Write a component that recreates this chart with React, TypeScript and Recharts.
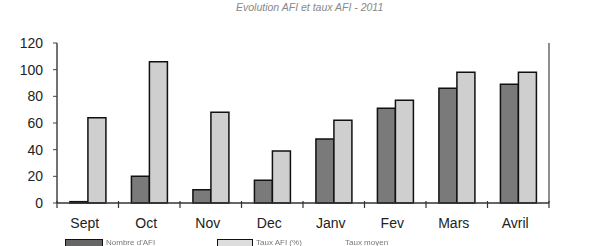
import { Bar, BarChart, Legend, XAxis, YAxis } from "recharts";

const months = ["Sept", "Oct", "Nov", "Dec", "Janv", "Fev", "Mars", "Avril"];
const nombre = [1, 20, 10, 17, 48, 71, 86, 89];
const taux = [64, 106, 68, 39, 62, 77, 98, 98];
const leftTicks = [0, 20, 40, 60, 80, 100, 120];
const rightTicks = [0, 20, 40, 60, 80, 100];
const legendLabels = ["Nombre d'AFI", "Taux AFI (%)", "Taux moyen"];

const data = months.map((m, i) => ({ m, nombre: nombre[i], taux: taux[i] }));

const W = 615;
const H = 246;
const LEFT = 57;
const RIGHT = 66;
const STEP = (W - LEFT - RIGHT) / months.length;

function MonthTick(props: any) {
  const { x, y, payload, index } = props;
  return (
    <g>
      <line x1={x + STEP / 2} x2={x + STEP / 2} y1={y - 10} y2={y - 3} stroke="#333" strokeWidth={1.2} />
      {index === 0 && (
        <line x1={x - STEP / 2} x2={x - STEP / 2} y1={y - 10} y2={y - 3} stroke="#333" strokeWidth={1.2} />
      )}
      <text x={x - 3} y={y + 17} textAnchor="middle" fontSize={14} fontWeight={500} fill="#222">
        {payload.value}
      </text>
    </g>
  );
}

function LegendBox() {
  return (
    <div style={{ position: "relative", height: 13, width: W, fontFamily: "Liberation Sans, Arial, sans-serif", fontSize: 8, color: "#777" }}>
      <div style={{ position: "absolute", left: 65, top: 6, width: 36, height: 8, background: "#666", border: "1.5px solid #111" }} />
      <div style={{ position: "absolute", left: 106, top: 5 }}>{legendLabels[0]}</div>
      <div style={{ position: "absolute", left: 217, top: 6, width: 34, height: 8, background: "#ddd", border: "1.5px solid #111" }} />
      <div style={{ position: "absolute", left: 256, top: 5 }}>{legendLabels[1]}</div>
      <div style={{ position: "absolute", left: 345, top: 5 }}>{legendLabels[2]}</div>
    </div>
  );
}

export default function App() {
  return (
    <div style={{ position: "fixed", left: 0, top: 0, width: W, height: H, background: "#fff", fontFamily: "Liberation Sans, Arial, sans-serif" }}>
      <div style={{ position: "absolute", top: 1, left: 236, fontSize: 10.5, fontStyle: "italic", color: "#888", whiteSpace: "nowrap" }}>
        Evolution AFI et taux AFI - 2011
      </div>
      <BarChart
        width={W}
        height={H}
        data={data}
        margin={{ top: 43, right: 0, left: 0, bottom: 0 }}
        barCategoryGap="21%"
        barGap={0}
      >
        <XAxis
          dataKey="m"
          height={30}
          interval={0}
          tickLine={false}
          axisLine={{ stroke: "#333", strokeWidth: 1.5 }}
          tick={<MonthTick />}
        />
        <YAxis
          yAxisId="left"
          width={LEFT}
          domain={[0, 120]}
          ticks={leftTicks}
          interval={0}
          tickSize={4}
          tickMargin={10}
          axisLine={{ stroke: "#444", strokeWidth: 1.5 }}
          tickLine={{ stroke: "#444" }}
          tick={{ fontSize: 14, fill: "#222" }}
        />
        <YAxis
          yAxisId="right"
          orientation="right"
          width={RIGHT}
          domain={[0, 100]}
          ticks={rightTicks}
          interval={0}
          tickSize={6}
          tickMargin={8}
          tickFormatter={(v: number) => `${v}%`}
          axisLine={{ stroke: "#444", strokeWidth: 1.2 }}
          tickLine={{ stroke: "#444" }}
          tick={{ fontSize: 13, fill: "#555" }}
        />
        <Legend verticalAlign="bottom" content={<LegendBox />} wrapperStyle={{ left: 0, width: W }} />
        <Bar yAxisId="left" dataKey="nombre" fill="#7a7a7a" stroke="#111" strokeWidth={1.5} isAnimationActive={false} />
        <Bar yAxisId="left" dataKey="taux" fill="#cfcfcf" stroke="#111" strokeWidth={1.5} isAnimationActive={false} />
      </BarChart>
    </div>
  );
}
